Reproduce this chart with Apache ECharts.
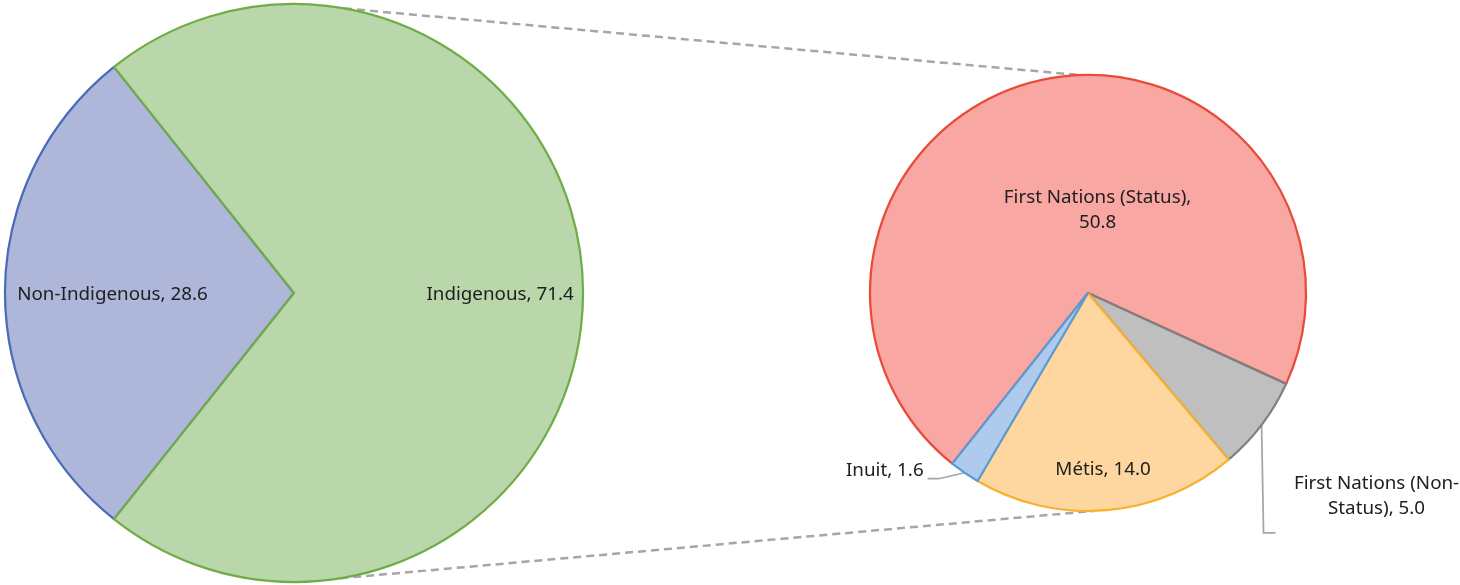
<!DOCTYPE html>
<html><head><meta charset="utf-8">
<script src="https://cdn.jsdelivr.net/npm/echarts@6/dist/echarts.min.js"></script>
<style>html,body{margin:0;padding:0;background:#fff}#c{width:1460px;height:585px}</style>
</head><body><div id="c"></div>
<script>
// ---- data ----
const mainCategories = ['Non-Indigenous', 'Indigenous'];
const mainValues = [28.6, 71.4];
const subCategories = ['First Nations (Status)', 'First Nations (Non-Status)', 'Métis', 'Inuit'];
const subValues = [50.8, 5.0, 14.0, 1.6];

// ---- styles ----
const mainColors = ['#AEB6D9', '#BAD7AC'];
const mainBorders = ['#4A6CB8', '#70AD47'];
const subColors = ['#F8A7A3', '#BFBFBF', '#FED69F', '#AECBEE'];
const subBorders = ['#E84B37', '#7F7F7F', '#F9B12D', '#5B9BD5'];
const subLabelPos = ['inside', 'outside', 'inside', 'outside'];
const FONT = '"Noto Sans", "Open Sans", sans-serif';
const FS = 18.8;
const TXT = '#202020';

// ---- layout ----
const sum = a => a.reduce((x, y) => x + y, 0);
const L = { cx: 294, cy: 293, r: 289 };
L.start = 180 + mainValues[0] / sum(mainValues) * 180;
const R = { cx: 1088, cy: 293, r: 218, start: 231.5 };

function midAngles(vals, start) {
  const t = sum(vals); let c = 0;
  return vals.map(v => { const m = start - (c + v / 2) / t * 360; c += v; return m; });
}
function pt(g, ang, k) {
  const a = ang * Math.PI / 180;
  return [g.cx + k * g.r * Math.cos(a), g.cy - k * g.r * Math.sin(a)];
}
const mainMid = midAngles(mainValues, L.start);
const subMid = midAngles(subValues, R.start);
const mainLabelK = [0.628, 0.713];

function subLabel(p) {
  const v = Number(p.value).toFixed(1);
  if (p.dataIndex === 0) return p.name + ',\n' + v;
  if (p.dataIndex === 1) return p.name.replace('(Non-', '(Non-\n') + ', ' + v;
  return p.name + ', ' + v;
}

const chart = echarts.init(document.getElementById('c'), null, { renderer: 'canvas' });

const topA = pt(L, 80, 1), topB = pt(R, 92, 1);
const botA = pt(L, -80.8, 1), botB = pt(R, -88.5, 1);
const dashStyle = { stroke: '#A6A6A6', lineWidth: 2.5, lineDash: [8, 5] };

chart.setOption({
  animation: false,
  backgroundColor: '#fff',
  graphic: [
    { type: 'line', z: 0, silent: true, shape: { x1: topA[0], y1: topA[1], x2: topB[0], y2: topB[1] }, style: dashStyle },
    { type: 'line', z: 0, silent: true, shape: { x1: botA[0], y1: botA[1], x2: botB[0], y2: botB[1] }, style: dashStyle }
  ],
  series: [
    {
      type: 'pie', silent: true, z: 2,
      center: [L.cx, L.cy], radius: L.r,
      startAngle: L.start, clockwise: true, avoidLabelOverlap: false,
      emphasis: { disabled: true },
      data: mainCategories.map((n, i) => ({
        name: n, value: mainValues[i],
        itemStyle: { color: mainColors[i], borderColor: mainBorders[i], borderWidth: 2.25 }
      })),
      label: {
        show: true, position: 'inside', color: TXT, fontFamily: FONT, fontSize: FS,
        formatter: p => p.name + ', ' + Number(p.value).toFixed(1)
      },
      labelLine: { show: false },
      labelLayout: p => {
        const i = p.dataIndex;
        const q = pt(L, mainMid[i], mainLabelK[i]);
        return { x: q[0], y: q[1] + 2, align: 'center', verticalAlign: 'middle' };
      }
    },
    {
      type: 'pie', silent: true, z: 2,
      center: [R.cx, R.cy], radius: R.r,
      startAngle: R.start, clockwise: true, avoidLabelOverlap: false,
      emphasis: { disabled: true },
      data: subCategories.map((n, i) => ({
        name: n, value: subValues[i],
        itemStyle: { color: subColors[i], borderColor: subBorders[i], borderWidth: 2.25 },
        label: { position: subLabelPos[i] },
        labelLine: { show: subLabelPos[i] === 'outside' }
      })),
      label: {
        show: true, color: TXT, fontFamily: FONT, fontSize: FS, lineHeight: 25,
        formatter: subLabel
      },
      labelLine: { show: true, lineStyle: { color: '#A6A6A6', width: 1.75 }, length: 20, length2: 10 },
      labelLayout: p => {
        const i = p.dataIndex;
        const a = pt(R, subMid[i], 1);
        if (i === 0) return { x: R.cx + 0.044 * R.r, y: R.cy - 0.38 * R.r, align: 'center', verticalAlign: 'middle' };
        if (i === 2) { const q = pt(R, subMid[i], 0.815); return { x: q[0], y: q[1], align: 'center', verticalAlign: 'middle' }; }
        if (i === 3) return {
          x: a[0] - 41, y: a[1] - 2, align: 'right', verticalAlign: 'middle',
          labelLinePoints: [[a[0], a[1]], [a[0] - 26, a[1] + 6], [a[0] - 37, a[1] + 6]]
        };
        return {
          x: a[0] + 115, y: a[1] + 71, align: 'center', verticalAlign: 'middle',
          labelLinePoints: [[a[0], a[1]], [a[0] + 2, a[1] + 108], [a[0] + 14, a[1] + 108]]
        };
      }
    }
  ]
});
</script>
</body></html>
